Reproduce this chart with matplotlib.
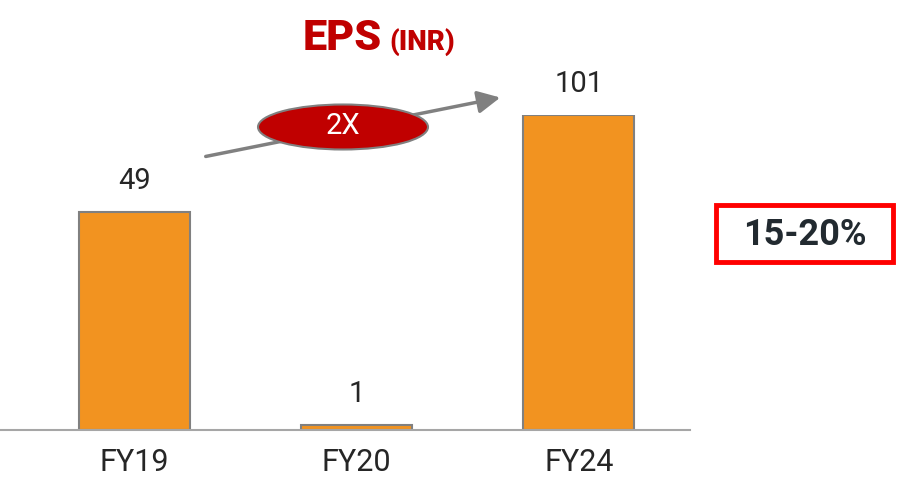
import matplotlib.pyplot as plt
from matplotlib.patches import Ellipse, Rectangle, FancyArrowPatch

# data
years = ['FY19', 'FY20', 'FY24']
eps = [49, 1, 101]
# bar heights as drawn in the slide (not to scale with the labels)
drawn = [70, 1.6, 101]
growth_label = '2X'
cagr_label = '15-20%'

W, H = 897, 483
fig = plt.figure(figsize=(W / 100, H / 100), dpi=100)

def fx(x):
    return x / W

def fy(y):
    return 1 - y / H

thin = ['Roboto', 'DejaVu Sans']

ax = fig.add_axes([0, fy(430), fx(690), (430 - 115) / H])
ax.bar(range(len(years)), drawn, width=0.5, color='#F29320',
       edgecolor='#808080', linewidth=1.5, zorder=2)
ax.set_xlim(-0.606, 2.50)
ax.set_ylim(0, 101)
for s in ['top', 'right', 'left']:
    ax.spines[s].set_visible(False)
ax.spines['bottom'].set_color('#A6A6A6')
ax.spines['bottom'].set_linewidth(1.5)
ax.set_yticks([])
ax.set_xticks(range(len(years)))
ax.set_xticklabels(years, family=thin, fontsize=22, color='#262626')
ax.tick_params(axis='x', length=0, pad=13)

for i, (h, v) in enumerate(zip(drawn, eps)):
    ax.annotate(str(v), (i, h), xytext=(0, 12), textcoords='offset points',
                ha='center', va='bottom', family=thin,
                fontsize=21, color='#262626', annotation_clip=False)

# title
fig.text(fx(303), fy(38), 'EPS', family=thin, fontweight='heavy',
         fontsize=31, color='#C00000', va='center', ha='left')
fig.text(fx(389), fy(42), '(INR)', family=thin, fontweight='heavy',
         fontsize=20, color='#C00000', va='center', ha='left')

# growth arrow
arr = FancyArrowPatch((fx(203), fy(157)), (fx(503), fy(97)),
                      transform=fig.transFigure, arrowstyle='-|>',
                      mutation_scale=34, color='#808080', lw=2.5)
fig.patches.append(arr)
ell = Ellipse((fx(343), fy(127)), 170 / W, 45 / H, transform=fig.transFigure,
              facecolor='#C00000', edgecolor='#808080', lw=1.5, zorder=3)
fig.patches.append(ell)
fig.text(fx(343), fy(126), growth_label, family=thin,
         fontsize=21, color='white', ha='center', va='center', zorder=4)

# CAGR box
box = Rectangle((fx(716), fy(262)), 177 / W, 57 / H, transform=fig.transFigure,
                facecolor='white', edgecolor='#FF0000', lw=3.5)
fig.patches.append(box)
fig.text(fx(805), fy(235), cagr_label, family=['Roboto', 'DejaVu Sans'],
         fontweight='bold', fontsize=26, color='#222A30',
         ha='center', va='center')

fig.savefig('out.png', dpi=100)
